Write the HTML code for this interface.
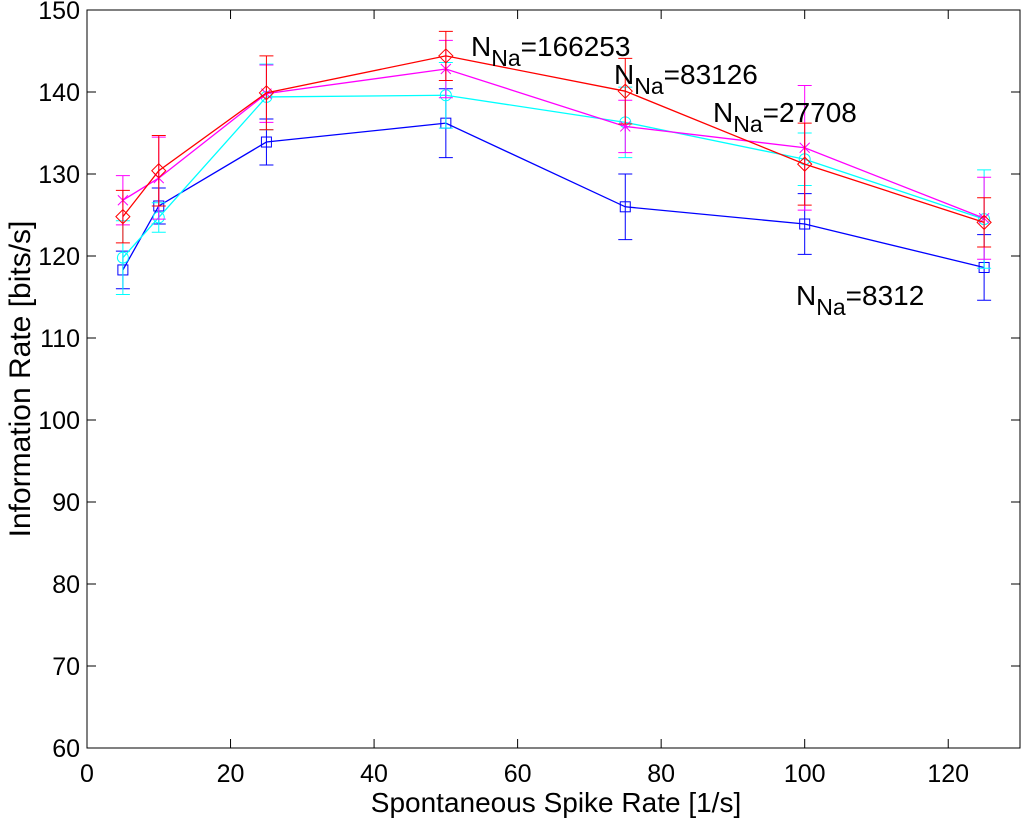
<!DOCTYPE html>
<html><head><meta charset="utf-8"><style>
html,body{margin:0;padding:0;background:#fff;}
svg{display:block;font-family:"Liberation Sans",Arial,sans-serif;}
</style></head><body>
<svg id="chart" width="1024" height="819" viewBox="0 0 1024 819" xmlns="http://www.w3.org/2000/svg">
<rect x="0" y="0" width="1024" height="819" fill="#fff"/>
<g id="grid"></g>
<g id="marks"></g>
<rect x="87" y="10" width="933" height="738" fill="none" stroke="#000" stroke-width="1"/>
<text x="556" y="812" font-size="28" text-anchor="middle">Spontaneous Spike Rate [1/s]</text>
<text transform="translate(30,379) rotate(-90)" font-size="30" text-anchor="middle">Information Rate [bits/s]</text>
<text x="471" y="56" font-size="28">N<tspan dy="10" font-size="23">Na</tspan><tspan dy="-10">=166253</tspan></text>
<text x="614" y="84" font-size="28">N<tspan dy="10" font-size="23">Na</tspan><tspan dy="-10">=83126</tspan></text>
<text x="713" y="122" font-size="28">N<tspan dy="10" font-size="23">Na</tspan><tspan dy="-10">=27708</tspan></text>
<text x="796" y="305" font-size="28">N<tspan dy="10" font-size="23">Na</tspan><tspan dy="-10">=8312</tspan></text>
</svg>
<script>
const xs=[5,10,25,50,75,100,125];
const blueVals=[118.3,126.1,133.9,136.2,126.0,123.9,118.6];
const blueErr=[2.3,2.2,2.8,4.2,4.0,3.7,4.0];
const cyanVals=[119.8,124.7,139.4,139.6,136.3,131.8,124.5];
const cyanErr=[4.5,1.8,4.0,4.0,4.3,3.2,6.0];
const magVals=[126.8,129.5,139.8,142.8,135.8,133.2,124.6];
const magErr=[3.0,5.0,3.5,3.5,3.2,7.6,5.0];
const redVals=[124.8,130.4,139.9,144.4,140.1,131.2,124.1];
const redErr=[3.2,4.3,4.5,3.0,4.0,5.0,3.0];
const xTicks=[0,20,40,60,80,100,120];
const yTicks=[60,70,80,90,100,110,120,130,140,150];

const NS='http://www.w3.org/2000/svg';
const X=v=>87+v*(933/130);
const Y=v=>748-(v-60)*(738/90);
function mk(tag,attrs,parent){const e=document.createElementNS(NS,tag);for(const k in attrs)e.setAttribute(k,attrs[k]);parent.appendChild(e);return e;}
const grid=document.getElementById('grid');
const marks=document.getElementById('marks');
xTicks.forEach(t=>{
  const l=mk('line',{x1:X(t),x2:X(t),y1:748,y2:739,stroke:'#000'},grid);
  
  
  const l2=mk('line',{x1:X(t),x2:X(t),y1:10,y2:19,stroke:'#000'},grid);
  
  
  const tx=mk('text',{x:X(t),y:782,'font-size':25,'text-anchor':'middle'},grid);
  tx.textContent=t;
  
  
});
yTicks.forEach(t=>{
  const l=mk('line',{x1:87,x2:96,y1:Y(t),y2:Y(t),stroke:'#000'},grid);
  
  
  const l2=mk('line',{x1:1011,x2:1020,y1:Y(t),y2:Y(t),stroke:'#000'},grid);
  
  
  const tx=mk('text',{x:80,y:Y(t)+9,'font-size':25,'text-anchor':'end'},grid);
  tx.textContent=t;
  
  
});
function series(vals,err,color,marker,name){
  const g=mk('g',{},marks);
  
  
  vals.forEach((v,i)=>{
    const x=X(xs[i]);
    const e=mk('path',{d:`M${x},${Y(v-err[i])}V${Y(v+err[i])}M${x-7},${Y(v-err[i])}h14M${x-7},${Y(v+err[i])}h14`,stroke:color,fill:'none','stroke-width':1},g);
    
    
  });
  const p=mk('polyline',{points:vals.map((v,i)=>X(xs[i])+','+Y(v)).join(' '),fill:'none',stroke:color,'stroke-width':1.3},g);
  
  
  vals.forEach((v,i)=>{
    const x=X(xs[i]),y=Y(v);let m;
    if(marker==='square')m=mk('rect',{x:x-5,y:y-5,width:10,height:10,fill:'none',stroke:color},g);
    else if(marker==='circle')m=mk('circle',{cx:x,cy:y,r:5.5,fill:'none',stroke:color},g);
    else if(marker==='x')m=mk('path',{d:`M${x-5},${y-5}L${x+5},${y+5}M${x-5},${y+5}L${x+5},${y-5}M${x},${y-5}V${y+5}`,stroke:color,fill:'none'},g);
    else m=mk('path',{d:`M${x},${y-7}L${x+7},${y}L${x},${y+7}L${x-7},${y}Z`,fill:'none',stroke:color},g);
    
    
  });
}
series(blueVals,blueErr,'#0000ff','square','nna-8312');
series(cyanVals,cyanErr,'#00ffff','circle','nna-27708');
series(magVals,magErr,'#ff00ff','x','nna-83126');
series(redVals,redErr,'#ff0000','diamond','nna-166253');
</script>
</body></html>
